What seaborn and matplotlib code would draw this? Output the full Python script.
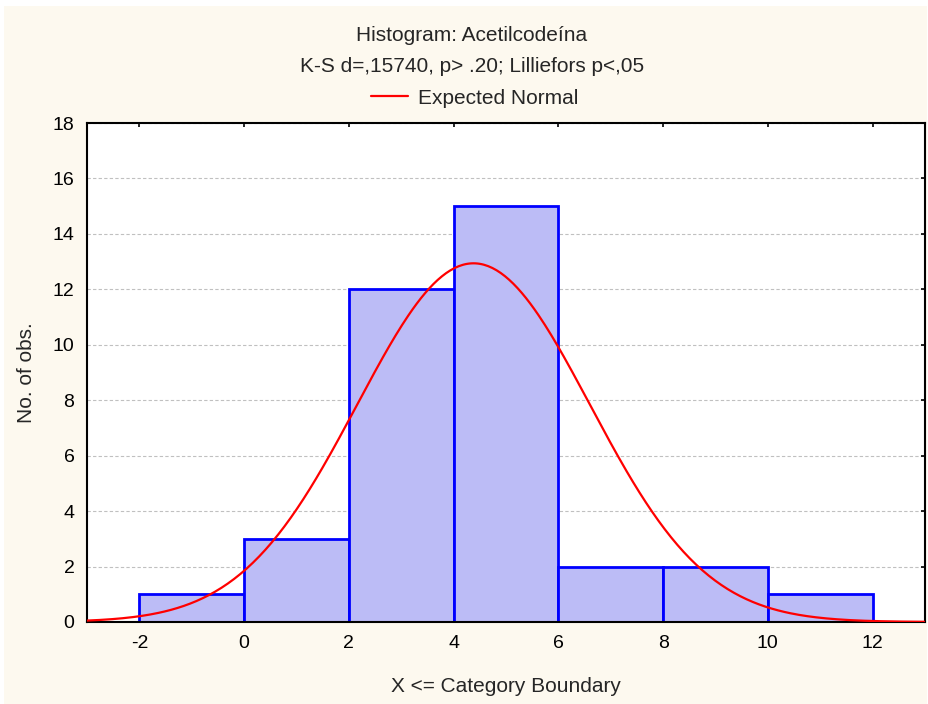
import matplotlib
matplotlib.use("Agg")
import matplotlib.pyplot as plt
import seaborn as sns
import numpy as np
from matplotlib.patches import Rectangle

# Histogram data
bin_edges = [-2, 0, 2, 4, 6, 8, 10, 12]
bin_counts = [1, 3, 12, 15, 2, 2, 1]
bin_centers = [-1, 1, 3, 5, 7, 9, 11]

# Expected normal fit
fit_mean = 4.38
fit_sd = 2.22
n_obs = sum(bin_counts)
bin_width = 2

title_1 = "Histogram: Acetilcodeína"
title_2 = "K-S d=,15740, p> .20; Lilliefors p<,05"

sns.set_style("white")
plt.rcParams['font.family'] = ['Liberation Sans', 'DejaVu Sans']
plt.rcParams['axes.unicode_minus'] = False

W, H = 929, 704
fig = plt.figure(figsize=(W / 100, H / 100), dpi=100, facecolor="white")
# cream panel behind everything
fig.patches.append(Rectangle((4 / W, 0), 923 / W, 698 / H, transform=fig.transFigure,
                             facecolor="#fdf9ef", edgecolor="none", zorder=-10))
ax = fig.add_axes([87 / W, (H - 622) / H, 838 / W, 499 / H])
ax.set_facecolor("white")

sns.histplot(x=bin_centers, weights=bin_counts, bins=bin_edges, ax=ax,
             color="#bcbcf6", edgecolor="#0000ff", linewidth=2, alpha=1, zorder=2)

# Expected normal curve
xs = np.linspace(-3, 13, 400)
ys = n_obs * bin_width * np.exp(-0.5 * ((xs - fit_mean) / fit_sd) ** 2) / (fit_sd * np.sqrt(2 * np.pi))
ax.plot(xs, ys, color="#ff0000", lw=1.6, zorder=3, label="Expected Normal")

ax.set_xlim(-3, 13)
ax.set_ylim(0, 18)
ax.set_xticks(range(-2, 13, 2))
ax.set_yticks(range(0, 19, 2))
ax.yaxis.grid(True, color="#c0c0c0", linestyle=(0, (3, 2)), lw=0.8)
ax.set_axisbelow(True)
for s in ax.spines.values():
    s.set_color("black")
    s.set_linewidth(1.5)
ax.tick_params(axis="both", labelsize=14, colors="black", length=3, width=1.2,
               pad=9, direction="in", top=True, right=True)

ax.set_xlabel("X <= Category Boundary", fontsize=15, va="baseline")
ax.xaxis.set_label_coords(0.5, (622 - 692) / 499)
ax.set_ylabel("No. of obs.", fontsize=15, va="center")
ax.yaxis.set_label_coords((27 - 87) / 838, 0.5)

cx = 472 / W
fig.text(cx, 1 - 41 / H, title_1, ha="center", va="baseline", fontsize=15)
fig.text(cx, 1 - 72 / H, title_2, ha="center", va="baseline", fontsize=15)
ax.legend(loc="center left", bbox_to_anchor=(371 / W, 1 - 98 / H),
          bbox_transform=fig.transFigure, frameon=False, fontsize=15,
          handlelength=1.78, handletextpad=0.48, borderpad=0, borderaxespad=0)

fig.savefig("out.png", dpi=100, facecolor=fig.get_facecolor())
